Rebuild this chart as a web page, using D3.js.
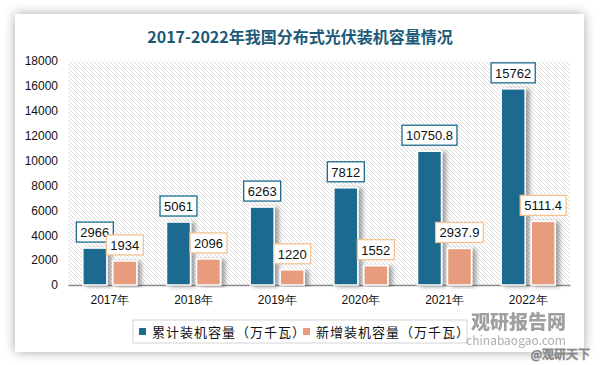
<!DOCTYPE html>
<html><head><meta charset="utf-8">
<script src="https://cdn.jsdelivr.net/npm/d3@7"></script>
<style>
html,body{margin:0;padding:0;background:#fff;}
svg{display:block;font-family:"Noto Sans CJK SC","Noto Sans",sans-serif;}
</style></head>
<body>
<svg id="c" width="600" height="365"></svg>
<script>
const categories = ["2017年","2018年","2019年","2020年","2021年","2022年"];
const cumulative = [2966, 5061, 6263, 7812, 10750.8, 15762];
const added = [1934, 2096, 1220, 1552, 2937.9, 5111.4];
const cumulativeLabels = ["2966","5061","6263","7812","10750.8","15762"];
const addedLabels = ["1934","2096","1220","1552","2937.9","5111.4"];
const yTicks = [0,2000,4000,6000,8000,10000,12000,14000,16000,18000];
const seriesNames = ["累计装机容量（万千瓦）","新增装机容量（万千瓦）"];
const title = "2017-2022年我国分布式光伏装机容量情况";

(function(){
const svg = d3.select("#c");
const defs = svg.append("defs");
const f = defs.append("filter").attr("id","shadow").attr("x","-30%").attr("y","-30%").attr("width","160%").attr("height","160%");
f.append("feGaussianBlur").attr("in","SourceAlpha").attr("stdDeviation",6).attr("result","b");
f.append("feComponentTransfer").attr("in","b").attr("result","o2").append("feFuncA").attr("type","linear").attr("slope",0.35);
const m = f.append("feMerge"); m.append("feMergeNode").attr("in","o2"); m.append("feMergeNode").attr("in","SourceGraphic");

const bf = defs.append("filter").attr("id","barshadow").attr("x","-20%").attr("y","-10%").attr("width","160%").attr("height","120%");
bf.append("feGaussianBlur").attr("in","SourceAlpha").attr("stdDeviation",2).attr("result","b");
bf.append("feOffset").attr("in","b").attr("dx",4).attr("dy",1).attr("result","o");
bf.append("feComponentTransfer").attr("in","o").attr("result","o2").append("feFuncA").attr("type","linear").attr("slope",0.35);
const bm = bf.append("feMerge"); bm.append("feMergeNode").attr("in","o2"); bm.append("feMergeNode").attr("in","SourceGraphic");

const pat = defs.append("pattern").attr("id","hatch").attr("patternUnits","userSpaceOnUse").attr("width",4).attr("height",4);
pat.append("rect").attr("width",4).attr("height",4).attr("fill","#ffffff");
pat.append("path").attr("d","M-1,-1 L5,5 M3,-1 L5,1 M-1,3 L1,5").attr("stroke","#d2d2d2").attr("stroke-width",0.8);

svg.append("rect").attr("x",15).attr("y",14).attr("width",569).attr("height",338).attr("fill","#fff").attr("filter","url(#shadow)");

svg.append("text").attr("x",300).attr("y",43).attr("text-anchor","middle")
  .attr("font-size",16).attr("font-weight","bold").attr("fill","#1c5a77").text(title);

const pl=68, pr=570, pt=61, pb=285;
const x = d3.scaleBand().domain(categories).range([pl,pr]).paddingInner(0).paddingOuter(0);
const y = d3.scaleLinear().domain([0,18000]).range([pb,pt]);

svg.append("rect").attr("x",pl).attr("y",pt).attr("width",pr-pl).attr("height",pb-pt).attr("fill","url(#hatch)");

const ya = svg.append("g").attr("transform",`translate(${pl},0)`)
  .call(d3.axisLeft(y).tickValues(yTicks).tickSize(0).tickPadding(10).tickFormat(d3.format("d")));
ya.select(".domain").remove();
ya.selectAll("text").attr("font-size",12).attr("fill","#111").attr("font-family","'Liberation Sans',Arial,sans-serif");

const xa = svg.append("g").attr("transform",`translate(0,${pb})`)
  .call(d3.axisBottom(x).tickSize(0).tickPadding(10));
xa.select(".domain").attr("stroke","#8c8c8c").attr("stroke-width",1.5);
xa.selectAll("text").attr("font-size",12).attr("fill","#111");

const bw = 24, gap = 6;
const blue = "#1c6b8f", orange = "#e69c7d";
const series = [
  {vals:cumulative, labels:cumulativeLabels, color:blue, border:"#1c6b8f", off:-(bw+gap)/2},
  {vals:added, labels:addedLabels, color:orange, border:"#f5c392", off:(bw+gap)/2}
];
series.forEach(s=>{
  const g = svg.append("g");
  g.selectAll("rect").data(s.vals).join("rect")
    .attr("x",(d,i)=>x(categories[i])+x.bandwidth()/2+s.off-bw/2)
    .attr("y",d=>y(d)).attr("width",bw).attr("height",d=>pb-y(d))
    .attr("fill",s.color).attr("stroke","#fff").attr("stroke-width",1.5)
    .attr("filter","url(#barshadow)");
});
series.forEach(s=>{
  const lg = svg.append("g");
  s.vals.forEach((d,i)=>{
    const cx = x(categories[i])+x.bandwidth()/2+s.off;
    const t = s.labels[i];
    const by = y(d)-26;
    const r = lg.append("rect").attr("y",by).attr("height",20)
      .attr("fill","#fff").attr("stroke",s.border).attr("stroke-width",1.3);
    const tx = lg.append("text").attr("x",cx).attr("y",by+15).attr("text-anchor","middle")
      .attr("font-size",13).attr("fill","#111").attr("font-family","'Liberation Sans',Arial,sans-serif").text(t);
    const tw = tx.node().getComputedTextLength()+8;
    r.attr("x",cx-tw/2).attr("width",tw);
  });
});

const leg = svg.append("g");
leg.append("rect").attr("x",133).attr("y",320).attr("width",334).attr("height",23).attr("fill","#fff").attr("stroke","#d4d4d4");
const li = [{x:139,c:blue,n:seriesNames[0]},{x:303,c:orange,n:seriesNames[1]}];
li.forEach(l=>{
  leg.append("rect").attr("x",l.x).attr("y",328).attr("width",7).attr("height",7).attr("fill",l.c);
  leg.append("text").attr("x",l.x+13).attr("y",337).attr("font-size",13).attr("letter-spacing",1).attr("fill","#111").text(l.n);
});

svg.append("text").attr("x",566).attr("y",329).attr("text-anchor","end").attr("font-size",19).attr("font-weight","900").attr("fill","#8f8f8f").attr("opacity",0.85).text("观研报告网");
svg.append("text").attr("x",566).attr("y",345).attr("text-anchor","end").attr("font-size",12).attr("fill","#999").attr("opacity",0.8).text("chinabaogao.com");
svg.append("text").attr("x",590).attr("y",359).attr("text-anchor","end").attr("font-size",12).attr("fill","#fff").attr("stroke","#888").attr("stroke-width",0.8).text("@观研天下");
})();
</script>
</body></html>
